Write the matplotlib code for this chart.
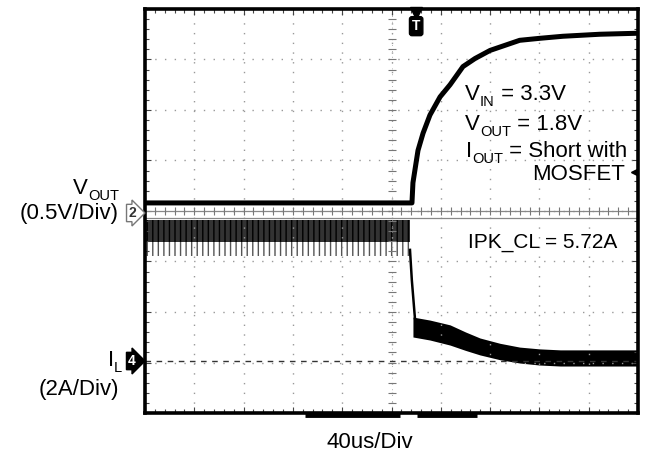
import numpy as np
import matplotlib
matplotlib.use("Agg")
import matplotlib.pyplot as plt

plt.rcParams['font.family'] = ['Liberation Sans', 'DejaVu Sans']

# scope settings
t_div = 40.0      # us per division
v_div = 0.5       # V per division (ch2)
i_div = 2.0       # A per division (ch4)
ch2_off = -0.1    # ch2 ground, divisions from centre
ch4_off = -2.97   # ch4 ground, divisions from centre

# VOUT trace (us, V)
vout_t = [-200, 16.6, 17.4, 21.5, 25.6, 31.2, 39.4, 47.5, 58, 67.8, 80, 92, 104, 120.5, 139, 169, 200]
vout_v = [0.13, 0.13, 0.33, 0.65, 0.82, 1.00, 1.18, 1.30, 1.48, 1.56, 1.64, 1.69, 1.74, 1.76, 1.78, 1.80, 1.81]

# IL before short: switching ripple envelope (A)
rip_t = [-200, 15]
rip_top = [5.6, 5.6]
rip_mid = [4.72, 4.72]
rip_bot = [4.15, 4.15]

# IL fall edge
fall_t = [15, 16.5, 19]
fall_i = [4.4, 3.2, 1.7]

# IL after short: noisy band (A)
il_t = [17.4, 31.2, 47.5, 60, 71.8, 88, 104, 120, 137, 169, 200]
il_hi = [1.74, 1.62, 1.43, 1.15, 0.91, 0.70, 0.55, 0.48, 0.44, 0.44, 0.44]
il_lo = [0.95, 0.83, 0.63, 0.42, 0.24, 0.05, -0.08, -0.16, -0.20, -0.20, -0.20]

W, H = 649, 461
fig = plt.figure(figsize=(W / 100, H / 100), dpi=100)
L, R, T, B = 145, 638, 9, 413
ax = fig.add_axes([L / W, 1 - B / H, (R - L) / W, (B - T) / H])
ax.set_xlim(-5 * t_div, 5 * t_div)
ax.set_ylim(-4, 4)

def vd(v):
    return np.array(v) / v_div + ch2_off

def idv(i):
    return np.array(i) / i_div + ch4_off

# graticule
ax.set_xticks(np.arange(-5, 6) * t_div)
ax.set_xticks(np.arange(-25, 26) * t_div / 5, minor=True)
ax.set_yticks(np.arange(-4, 5))
ax.set_yticks(np.arange(-20, 21) * 0.2, minor=True)
ax.tick_params(which='both', direction='in', top=True, right=True,
               labelbottom=False, labelleft=False, color='#444')
ax.tick_params(which='major', length=4, width=0.8)
ax.tick_params(which='minor', length=3, width=0.8)
ax.grid(True, which='major', color='#999', linestyle=(0, (1, 6)), linewidth=1)
for s in ax.spines.values():
    s.set_linewidth(2.6)

ax.axhline(0, color='#888', lw=0.9)
ax.axhline(-0.13, color='#888', lw=0.9)
ax.axvline(0, color='#999', lw=0.6, ls=(0, (1, 6)))
xm = np.arange(-25, 26) * t_div / 5
ax.plot(xm, np.zeros_like(xm), ls='none', marker='|', ms=6, color='#777', mew=0.8)
ym = np.arange(-20, 21) * 0.2
ax.plot(np.zeros_like(ym), ym, ls='none', marker='_', ms=6, color='#777', mew=0.8)

# ch4 ground reference
ax.axhline(ch4_off, color='#333', lw=1.0, ls=(0, (4, 4)))

# VOUT
ax.plot(vout_t, vd(vout_v), color='black', lw=3.6, solid_joinstyle='round')

# IL ripple
ax.fill_between(rip_t, idv(rip_mid), idv(rip_top), facecolor='#333', edgecolor='black',
                hatch='|||', linewidth=0)
ax.fill_between(rip_t, idv(rip_bot), idv(rip_mid), facecolor='white', edgecolor='#555',
                hatch='|||', linewidth=0)
ax.plot(fall_t, idv(fall_i), color='black', lw=1.8)
ax.fill_between(il_t, idv(il_lo), idv(il_hi), color='black', linewidth=0)

# record length bar under the screen
ax.plot([-70, 7], [-4.03, -4.03], color='black', lw=3.5, clip_on=False, solid_capstyle='butt')
ax.plot([21, 69], [-4.03, -4.03], color='black', lw=3.5, clip_on=False, solid_capstyle='butt')

# trigger marker and ch trigger level
ax.plot([20], [3.93], marker='v', color='black', ms=8, clip_on=False)
ax.text(20, 3.66, 'T', color='white', fontsize=10, fontweight='bold', ha='center', va='center',
        bbox=dict(boxstyle='round,pad=0.18', fc='black', ec='black'))
ax.plot([197], [0.77], marker='<', color='black', ms=5, clip_on=False)

fig.canvas.draw()
rend = fig.canvas.get_renderer()
fs = 16

def label(x, y, parts, ha='left'):
    # parts: list of (text, is_subscript); x, y in pixels from top-left, y = text centre
    items = []
    for s, sub in parts:
        t = fig.text(0, 0, s, fontsize=fs * 0.66 if sub else fs, va='baseline')
        items.append((t, sub, t.get_window_extent(rend).width))
    total = sum(w for _, _, w in items)
    cx = x - total if ha == 'right' else x
    base = H - y - fs * 0.72 * 100 / 72 / 2
    for t, sub, w in items:
        t.set_position(((cx) / W, (base - (6 if sub else 0)) / H))
        cx += w

label(119, 186, [('V', False), ('OUT', True)], ha='right')
fig.text(119 / W, 1 - 213 / H, '(0.5V/Div)', fontsize=fs, ha='right', va='center')
label(122, 358, [('I', False), ('L', True)], ha='right')
fig.text(119 / W, 1 - 390 / H, '(2A/Div)', fontsize=fs, ha='right', va='center')
fig.text(132 / W, 1 - 213 / H, '2', fontsize=10, ha='center', va='center', color='#333',
         fontweight='bold', bbox=dict(boxstyle='rarrow,pad=0.12', fc='white', ec='#777', lw=1))
fig.text(132 / W, 1 - 361 / H, '4', fontsize=10, ha='center', va='center', color='white',
         fontweight='bold', bbox=dict(boxstyle='rarrow,pad=0.12', fc='black', ec='black', lw=1))

label(465, 92, [('V', False), ('IN', True), (' = 3.3V', False)])
label(465, 122, [('V', False), ('OUT', True), (' = 1.8V', False)])
label(466, 149, [('I', False), ('OUT', True), (' = Short with', False)])
fig.text(625 / W, 1 - 174 / H, 'MOSFET', fontsize=fs, ha='right', va='center')
fig.text(468 / W, 1 - 243 / H, 'IPK_CL = 5.72A', fontsize=fs - 1, ha='left', va='center')

fig.text(370 / W, 1 - 442 / H, '40us/Div', fontsize=fs, ha='center', va='center')

fig.savefig('out.png', dpi=100)
